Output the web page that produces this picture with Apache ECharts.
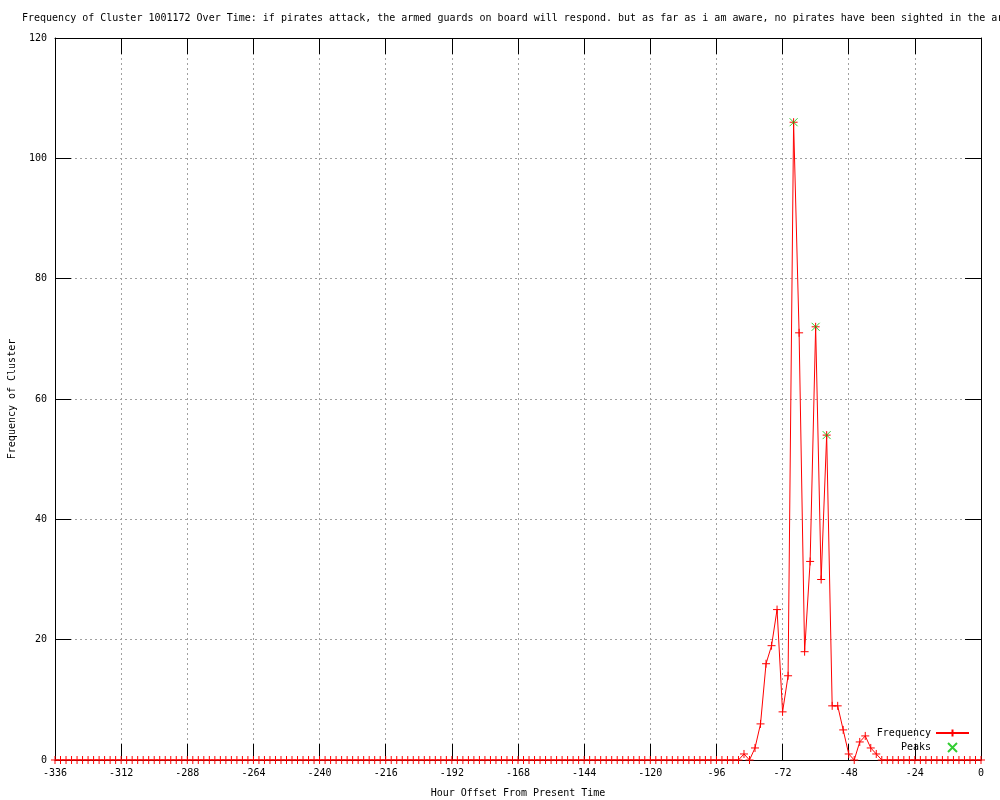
<!DOCTYPE html>
<html>
<head>
<meta charset="utf-8">
<script src="https://cdn.jsdelivr.net/npm/echarts@6/dist/echarts.min.js"></script>
<style>html,body{margin:0;padding:0;background:#fff}#c{width:1000px;height:800px}</style>
</head>
<body>
<div id="c"></div>
<script>
const titleText = 'Frequency of Cluster 1001172 Over Time: if pirates attack, the armed guards on board will respond. but as far as i am aware, no pirates have been sighted in the ar';
const xTicks = [-336, -312, -288, -264, -240, -216, -192, -168, -144, -120, -96, -72, -48, -24, 0];
const yTicks = [0, 20, 40, 60, 80, 100, 120];
const hours = [
  -336,-334,-332,-330,-328,-326,-324,-322,-320,-318,-316,-314,
  -312,-310,-308,-306,-304,-302,-300,-298,-296,-294,-292,-290,
  -288,-286,-284,-282,-280,-278,-276,-274,-272,-270,-268,-266,
  -264,-262,-260,-258,-256,-254,-252,-250,-248,-246,-244,-242,
  -240,-238,-236,-234,-232,-230,-228,-226,-224,-222,-220,-218,
  -216,-214,-212,-210,-208,-206,-204,-202,-200,-198,-196,-194,
  -192,-190,-188,-186,-184,-182,-180,-178,-176,-174,-172,-170,
  -168,-166,-164,-162,-160,-158,-156,-154,-152,-150,-148,-146,
  -144,-142,-140,-138,-136,-134,-132,-130,-128,-126,-124,-122,
  -120,-118,-116,-114,-112,-110,-108,-106,-104,-102,-100,-98,
  -96,-94,-92,-90,-88,-86,-84,-82,-80,-78,-76,-74,
  -72,-70,-68,-66,-64,-62,-60,-58,-56,-54,-52,-50,
  -48,-46,-44,-42,-40,-38,-36,-34,-32,-30,-28,-26,
  -24,-22,-20,-18,-16,-14,-12,-10,-8,-6,-4,-2,
  0
];
const frequency = [
  0,0,0,0,0,0,0,0,0,0,0,0,
  0,0,0,0,0,0,0,0,0,0,0,0,
  0,0,0,0,0,0,0,0,0,0,0,0,
  0,0,0,0,0,0,0,0,0,0,0,0,
  0,0,0,0,0,0,0,0,0,0,0,0,
  0,0,0,0,0,0,0,0,0,0,0,0,
  0,0,0,0,0,0,0,0,0,0,0,0,
  0,0,0,0,0,0,0,0,0,0,0,0,
  0,0,0,0,0,0,0,0,0,0,0,0,
  0,0,0,0,0,0,0,0,0,0,0,0,
  0,0,0,0,0,1,0,2,6,16,19,25,
  8,14,106,71,18,33,72,30,54,9,9,5,
  1,0,3,4,2,1,0,0,0,0,0,0,
  0,0,0,0,0,0,0,0,0,0,0,0,
  0
];
const peakHours = [-68, -60, -56];
const peakValues = [106, 72, 54];

const FONT = 'DejaVu Sans Mono';
const plusPath = 'path://M0,5L10,5M5,0L5,10';
const crossPath = 'path://M0,0L10,10M10,0L0,10';

const chart = echarts.init(document.getElementById('c'), null, {renderer: 'canvas'});
function axisCommon() {
  return {
    axisLine: {show: true, onZero: false, lineStyle: {color: '#000', width: 1}},
    axisTick: {show: true, inside: true, length: 16, lineStyle: {color: '#000', width: 1}}
  };
}
chart.setOption({
  animation: false,
  backgroundColor: '#fff',
  textStyle: {fontFamily: FONT},
  title: {
    text: titleText, left: 22, top: 13, padding: 0,
    textStyle: {fontFamily: FONT, fontSize: 10, fontWeight: 'normal', color: '#000'}
  },
  grid: {left: 55, right: 19, top: 38, bottom: 40, containLabel: false, outerBoundsMode: 'none'},
  legend: {
    orient: 'vertical', right: 30, top: 728, align: 'right', padding: 0,
    itemWidth: 33, itemHeight: 9, itemGap: 4,
    textStyle: {fontFamily: FONT, fontSize: 10, color: '#000'},
    data: [
      {name: 'Frequency'},
      {name: 'Peaks'}
    ]
  },
  xAxis: [
    Object.assign({
      type: 'value', position: 'bottom', min: xTicks[0], max: xTicks[xTicks.length - 1], interval: 24,
      name: 'Hour Offset From Present Time', nameLocation: 'middle', nameGap: 28,
      nameTextStyle: {fontFamily: FONT, fontSize: 10, color: '#000'},
      axisLabel: {fontFamily: FONT, fontSize: 10, color: '#000', margin: 8},
      splitLine: {show: true, lineStyle: {color: '#a0a0a0', type: [2, 3], width: 1}}
    }, axisCommon()),
    Object.assign({
      type: 'value', position: 'top', min: xTicks[0], max: xTicks[xTicks.length - 1], interval: 24,
      axisLabel: {show: false}, splitLine: {show: false}
    }, axisCommon())
  ],
  yAxis: [
    Object.assign({
      type: 'value', position: 'left', min: yTicks[0], max: yTicks[yTicks.length - 1], interval: 20,
      name: 'Frequency of Cluster', nameLocation: 'middle', nameGap: 38, nameRotate: 90,
      nameTextStyle: {fontFamily: FONT, fontSize: 10, color: '#000'},
      axisLabel: {fontFamily: FONT, fontSize: 10, color: '#000', margin: 8},
      splitLine: {show: true, lineStyle: {color: '#a0a0a0', type: [2, 3], width: 1}}
    }, axisCommon()),
    Object.assign({
      type: 'value', position: 'right', min: yTicks[0], max: yTicks[yTicks.length - 1], interval: 20,
      axisLabel: {show: false}, splitLine: {show: false}
    }, axisCommon())
  ],
  series: [
    {
      name: 'Frequency', type: 'line',
      data: hours.map((h, i) => [h, frequency[i]]),
      symbol: plusPath, symbolSize: 8, showAllSymbol: true,
      lineStyle: {color: '#ff0000', width: 1},
      itemStyle: {color: '#ff0000', borderColor: '#ff0000', borderWidth: 1},
      z: 2
    },
    {
      name: 'Peaks', type: 'scatter',
      data: peakHours.map((h, i) => [h, peakValues[i]]),
      symbol: crossPath, symbolSize: 8,
      itemStyle: {color: '#00c000', borderColor: '#00c000', borderWidth: 1},
      z: 3
    }
  ]
});
</script>
</body>
</html>
